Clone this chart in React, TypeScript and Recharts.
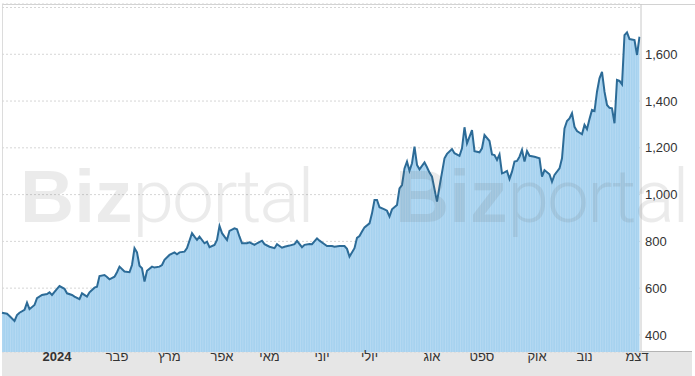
import { AreaChart, Area, XAxis, YAxis, CartesianGrid } from 'recharts'

// trading session number (from first day shown) and closing price
const sessions = [
  0, 2, 3, 5, 6, 7, 9, 10, 11, 13, 14, 16, 18, 19, 20, 22, 23, 25, 26, 28, 29, 31, 32, 34, 35, 37, 38, 39, 41, 42,
  43, 45, 46, 47, 49, 51, 52, 53, 54, 55, 56, 57, 58, 60, 61, 63, 64, 65, 67, 69, 70, 71, 73, 74, 76, 77, 78, 79, 81, 82,
  83, 85, 86, 87, 88, 89, 90, 91, 93, 94, 95, 96, 98, 99, 101, 102, 104, 105, 107, 109, 110, 112, 113, 115, 117, 118, 120, 121, 123, 124,
  126, 127, 129, 130, 132, 133, 135, 137, 138, 139, 141, 142, 143, 144, 145, 147, 148, 149, 150, 151, 153, 154, 155, 156, 158, 159, 160, 161, 162, 163,
  164, 165, 166, 167, 169, 170, 171, 172, 174, 175, 177, 178, 180, 181, 183, 184, 185, 186, 188, 189, 191, 192, 193, 195, 196, 197, 198, 199, 200, 201,
  202, 203, 204, 205, 206, 207, 208, 209, 210, 211, 213, 215, 216, 217, 219, 220, 221, 223, 224, 225, 226, 227, 228, 229, 230, 232, 233, 234, 235, 236,
  237, 238, 239, 240, 241, 242, 243, 244, 245, 246, 247, 248, 249, 250, 251, 253, 254, 255,
]
const closes = [
  495, 491, 481, 460, 485, 495, 507, 538, 510, 528, 557, 571, 575, 582, 571, 597, 609, 597, 578, 571, 564, 553, 578, 564, 582, 602, 606, 652, 656, 648,
  638, 649, 668, 692, 671, 668, 699, 771, 753, 696, 685, 628, 674, 692, 688, 692, 699, 721, 742, 753, 745, 753, 756, 771, 835, 820, 806, 820, 792, 799,
  775, 785, 806, 866, 835, 820, 806, 845, 856, 852, 820, 792, 792, 796, 785, 792, 803, 788, 777, 771, 788, 773, 777, 782, 788, 802, 775, 785, 789, 788,
  813, 803, 788, 780, 780, 777, 780, 780, 768, 735, 771, 815, 823, 842, 860, 877, 920, 977, 977, 946, 937, 931, 906, 937, 956, 1027, 1041, 1112, 1141, 1102,
  1134, 1205, 1127, 1108, 1138, 1117, 1094, 1077, 970, 1034, 1155, 1174, 1195, 1177, 1166, 1198, 1288, 1219, 1276, 1186, 1181, 1198, 1255, 1229, 1172, 1169, 1148, 1172, 1091, 1095,
  1101, 1067, 1098, 1141, 1144, 1162, 1191, 1141, 1186, 1166, 1162, 1155, 1077, 1105, 1087, 1055, 1084, 1112, 1155, 1283, 1315, 1326, 1348, 1290, 1272, 1258, 1298, 1280, 1323, 1362,
  1357, 1440, 1497, 1525, 1440, 1383, 1371, 1369, 1305, 1490, 1486, 1471, 1682, 1694, 1665, 1661, 1597, 1675,
]

const monthTicks = [22, 46, 67, 88, 107, 128, 147, 172, 192, 214, 233, 254]
const monthLabels = ['2024', 'פבר', 'מרץ', 'אפר', 'מאי', 'יוני', 'יולי', 'אוג', 'ספט', 'אוק', 'נוב', 'דצמ']
const priceTicks = [400, 600, 800, 1000, 1200, 1400, 1600, 1800]

const data = sessions.map((s, i) => ({ s, close: closes[i] }))

const font = 'Arial, "Liberation Sans", sans-serif'

function MonthTick({ x, y, payload }: any) {
  const label = monthLabels[monthTicks.indexOf(payload.value)] ?? ''
  return (
    <text
      x={x}
      y={y}
      dy={9}
      textAnchor="middle"
      fontSize={13}
      fontFamily={font}
      fontWeight={label === '2024' ? 700 : 400}
      fill="#333"
    >
      {label}
    </text>
  )
}

export default function App() {
  return (
    <div style={{ position: 'absolute', left: 0, top: 0, width: 695, height: 376, background: '#fff', overflow: 'hidden' }}>
      <div
        style={{
          position: 'absolute', left: 2, top: 351, width: 690, height: 25,
          background: '#e6e6e6', borderTop: '1px solid #b4b4b4', boxSizing: 'border-box',
        }}
      />
      <div style={{ position: 'absolute', left: 2, top: 4, width: 693, height: 1, background: '#d2d2d2' }} />
      <div style={{ position: 'absolute', left: 2, top: 4, width: 1, height: 347, background: '#dcdcdc' }} />
      <div style={{ position: 'absolute', left: 0, top: 0 }}>
        <AreaChart width={695} height={376} data={data} margin={{ top: 4, right: 0, bottom: 0, left: 2 }}>
          <defs>
            <pattern id="bizFill" width={2.5} height={8} patternUnits="userSpaceOnUse">
              <rect width={2.5} height={8} fill="#a6d2ef" />
              <rect width={0.8} height={8} fill="#b8dbf3" />
            </pattern>
          </defs>
          <CartesianGrid vertical={false} stroke="#d6d6d6" strokeDasharray="2 2" />
          <XAxis
            dataKey="s"
            type="number"
            domain={[0, 255.6]}
            ticks={monthTicks}
            interval={0}
            tick={<MonthTick />}
            tickLine={false}
            axisLine={false}
            tickSize={0}
            tickMargin={0}
            height={24}
          />
          <YAxis
            orientation="right"
            type="number"
            domain={[327, 1815]}
            ticks={priceTicks}
            interval={0}
            width={54}
            tickSize={0}
            tickMargin={4}
            tickLine={false}
            axisLine={{ stroke: '#c8c8c8' }}
            tick={{ fontSize: 13, fill: '#333', fontFamily: font }}
            tickFormatter={(v: number) => (v >= 1800 ? '' : v.toLocaleString('en-US'))}
          />
          <Area
            type="linear"
            dataKey="close"
            stroke="#2c6b97"
            strokeWidth={2}
            fill="url(#bizFill)"
            fillOpacity={1}
            dot={false}
            activeDot={false}
            isAnimationActive={false}
          />
        </AreaChart>
      </div>
      <svg width={695} height={376} style={{ position: 'absolute', left: 0, top: 0, pointerEvents: 'none' }}>
        {[20, 395].map((x) => (
          <text key={x} x={x} y={222} fontSize={75} fill="rgba(90,90,90,0.12)">
            <tspan fontFamily={font} fontWeight={700}>Biz</tspan>
            <tspan fontFamily="Roboto, Lato, sans-serif" fontWeight={300} letterSpacing={-2}>portal</tspan>
          </text>
        ))}
      </svg>
    </div>
  )
}
